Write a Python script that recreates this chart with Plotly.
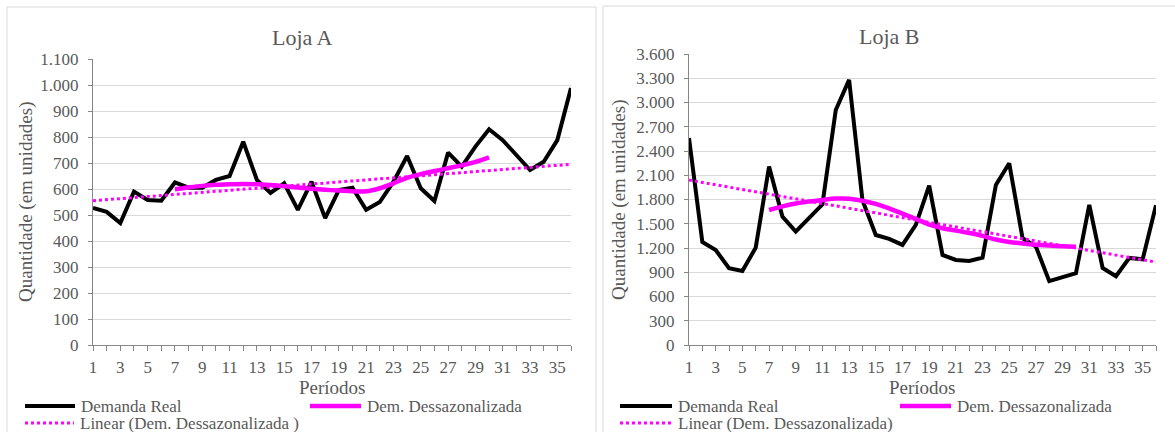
import plotly.graph_objects as go

W, H = 1175, 432

periods = list(range(1, 37))
periods_dessaz = list(range(7, 31))
periods_trend = [1, 36]

demanda_a = [527, 512, 469, 590, 558, 555, 625, 605, 605, 635, 650, 782,
             635, 585, 622, 520, 628, 488, 596, 605, 520, 550, 628, 727,
             603, 554, 740, 686, 763, 830, 788, 730, 673, 705, 788, 988]
dessaz_a = [599, 606, 612, 616, 618, 619, 618, 615, 611, 606, 601, 597,
            594, 591, 591, 603, 622, 643, 657, 669, 680, 691, 704, 722]
trend_a = [555, 695]

demanda_b = [2560, 1275, 1175, 950, 915, 1204, 2207, 1588, 1402, 1580, 1740, 2908,
             3280, 1790, 1361, 1312, 1238, 1485, 1972, 1114, 1052, 1040, 1081, 1980,
             2248, 1320, 1217, 790, 845, 890, 1733, 953, 850, 1077, 1060, 1730]
dessaz_b = [1670, 1715, 1750, 1775, 1795, 1812, 1810, 1785, 1745, 1690, 1625, 1560,
            1490, 1445, 1415, 1385, 1350, 1305, 1275, 1255, 1240, 1230, 1222, 1215]
trend_b = [2040, 1025]

y_ticks_a = list(range(0, 1101, 100))
y_ticks_b = list(range(0, 3601, 300))

FONT = '"Liberation Serif", "Times New Roman", serif'
TXT = "#595959"
MAG = "#ff00ff"

def px(x):
    return x / W

def py(y):
    return 1 - y / H

fig = go.Figure()

def add_series(xa, ya, dem, des, tr):
    fig.add_trace(go.Scatter(x=periods, y=dem, mode="lines", xaxis=xa, yaxis=ya,
                             line=dict(color="black", width=4), showlegend=False,
                             name="Demanda Real"))
    fig.add_trace(go.Scatter(x=periods_dessaz, y=des, mode="lines", xaxis=xa, yaxis=ya,
                             line=dict(color=MAG, width=4.5, shape="spline", smoothing=1),
                             showlegend=False, name="Dem. Dessazonalizada"))
    fig.add_trace(go.Scatter(x=periods_trend, y=tr, mode="lines", xaxis=xa, yaxis=ya,
                             line=dict(color=MAG, width=3, dash="dot"),
                             showlegend=False, name="Linear (Dem. Dessazonalizada)"))

add_series("x", "y", demanda_a, dessaz_a, trend_a)
add_series("x2", "y2", demanda_b, dessaz_b, trend_b)

def xaxis(domain):
    return dict(domain=domain, range=[1, 36], tick0=1, dtick=2, ticks="outside",
                ticklen=5, tickcolor="#868686", showline=True, linecolor="#868686",
                linewidth=1, showgrid=False, zeroline=False, automargin=False,
                minor=dict(dtick=1, tick0=1, ticks="outside", ticklen=5, tickcolor="#868686"),
                ticklabelstandoff=2,
                tickfont=dict(family=FONT, size=17, color=TXT), fixedrange=True)

def yaxis(domain, rng, ticks, anchor):
    return dict(domain=domain, range=rng, tickvals=ticks, ticks="outside", ticklen=4,
                tickcolor="#868686", showline=True, linecolor="#868686", linewidth=1,
                showgrid=True, gridcolor="#d9d9d9", gridwidth=1, zeroline=False,
                tickformat=",.0f", anchor=anchor, automargin=False, ticklabelstandoff=6,
                tickfont=dict(family=FONT, size=17, color=TXT), fixedrange=True)

fig.update_layout(
    width=W, height=H, margin=dict(l=0, r=0, t=0, b=0, pad=0, autoexpand=False),
    paper_bgcolor="white", plot_bgcolor="white", separators=",.",
    xaxis=dict(xaxis([px(93), px(571)]), anchor="y"),
    yaxis=yaxis([py(345), py(59)], [0, 1100], y_ticks_a, "x"),
    xaxis2=dict(xaxis([px(689), px(1156)]), anchor="y2"),
    yaxis2=yaxis([py(345), py(54)], [0, 3600], y_ticks_b, "x2"),
    showlegend=False,
)

shapes = []
annotations = []

# panel borders
for x0, x1, y0 in [(7, 596, 7), (603, 1180, 6)]:
    shapes.append(dict(type="rect", xref="paper", yref="paper",
                       x0=px(x0), x1=px(x1), y0=py(y0), y1=py(440),
                       line=dict(color="#d9d9d9", width=1), layer="below"))

def text(x, y, s, size=17, anchor="left", angle=0):
    annotations.append(dict(xref="paper", yref="paper", x=px(x), y=py(y), text=s,
                            showarrow=False, xanchor=anchor, yanchor="middle",
                            textangle=angle,
                            font=dict(family=FONT, size=size, color=TXT)))

# titles
text(302, 37, "Loja A", size=22, anchor="center")
text(889, 36, "Loja B", size=22, anchor="center")
# axis titles
text(26, 202, "Quantidade (em unidades)", size=19, anchor="center", angle=-90)
text(619, 200, "Quantidade (em unidades)", size=19, anchor="center", angle=-90)
text(332, 387, "Períodos", size=19, anchor="center")
text(922, 387, "Períodos", size=19, anchor="center")

# legends
def legend_item(x0, x1, y, style, label):
    if style == "black":
        line = dict(color="black", width=4)
    elif style == "mag":
        line = dict(color=MAG, width=4.5)
    else:
        line = dict(color=MAG, width=3, dash="dot")
    shapes.append(dict(type="line", xref="paper", yref="paper",
                       x0=px(x0), x1=px(x1), y0=py(y), y1=py(y), line=line))
    text(x1 + 4, y, label)

legend_item(25, 75, 406, "black", "Demanda Real")
legend_item(310, 361, 406, "mag", "Dem. Dessazonalizada")
legend_item(25, 74, 423, "dot", "Linear (Dem. Dessazonalizada )")
legend_item(620, 672, 406, "black", "Demanda Real")
legend_item(900, 951, 406, "mag", "Dem. Dessazonalizada")
legend_item(620, 672, 423, "dot", "Linear (Dem. Dessazonalizada)")

fig.update_layout(shapes=shapes, annotations=annotations)

fig.write_html("out.html", config={"displayModeBar": False},
               post_script="document.body.style.margin='0px';document.body.style.overflow='hidden';")
